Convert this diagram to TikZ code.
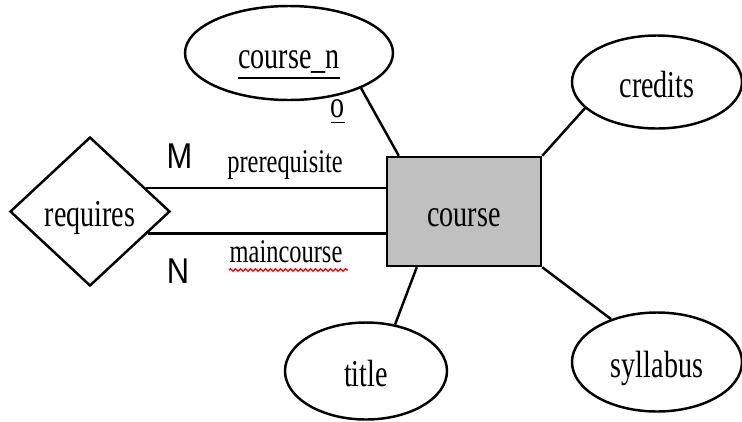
\documentclass[tikz,border=0pt]{standalone}
\usepackage{fontspec}
\setmainfont{Liberation Serif}[FakeStretch=0.74]
\newfontfamily\cardfont{Liberation Sans}[FakeStretch=0.86]
\usetikzlibrary{shapes.geometric,positioning,calc,decorations.pathmorphing}
\definecolor{entgray}{RGB}{192,192,192}

\begin{document}
\begin{tikzpicture}[
    ent/.style={draw, line width=0.7pt, fill=entgray, minimum width=1.54cm, minimum height=1.09cm, inner sep=0pt, text height=0.3cm, text depth=0pt, font=\fontsize{10.8}{12}\selectfont},
    rel/.style={draw, diamond, line width=0.7pt, minimum width=1.6cm, minimum height=1.49cm, inner sep=0pt, text height=0.3cm, text depth=0pt, font=\fontsize{10.8}{12}\selectfont},
    attr/.style={draw, ellipse, line width=0.7pt, inner sep=0pt, text height=0.3cm, text depth=0pt, font=\fontsize{10.8}{12}\selectfont},
    lbl/.style={anchor=base, inner sep=0pt, font=\fontsize{9.4}{11}\selectfont},
    card/.style={inner sep=0pt, font=\cardfont\fontsize{10.2}{11}\selectfont},
    link/.style={line width=0.7pt}
]
\useasboundingbox (0,0) rectangle (7.42,-4.21);

\node[ent] (crs) at (4.64,-2.115) {course};
\node[rel] (req) at (0.90,-2.115) {requires};
\node[attr, minimum width=2.08cm, minimum height=0.94cm] (cno) at (2.89,-0.53) {\underline{course\_n}};
\node[lbl, font=\fontsize{10.8}{12}\selectfont] (cno2) at (3.38,-1.17) {\underline{o}};
\node[attr, minimum width=1.70cm, minimum height=0.93cm] (cred) at (6.57,-0.82) {credits};
\node[attr, minimum width=1.62cm, minimum height=0.97cm] (tit) at (3.66,-3.71) {title};
\node[attr, minimum width=1.70cm, minimum height=0.99cm] (syl) at (6.57,-3.62) {syllabus};

\node[card] (m) at (1.795,-1.56) {M};
\node[card] (n) at (1.78,-2.715) {N};
\node[lbl] (pre) at (2.85,-1.72) {prerequisite};
\node[lbl] (mc) at (2.86,-2.62) {maincourse};

\draw[link] (req.23) -- (req.23 -| crs.west);
\draw[link] (req.-21) -- (req.-21 -| crs.west);
\draw[link] (cno.-26) -- ([xshift=0.13cm]crs.north west);
\draw[link] (cred.200) -- (crs.north east);
\draw[link] (tit.58) -- ([xshift=0.31cm]crs.south west);
\draw[link] (syl.137) -- (crs.south east);

\draw[red, decorate, decoration={snake, amplitude=0.012cm, segment length=0.05cm}]
    ([yshift=-0.08cm]mc.base west) -- ([xshift=0.05cm,yshift=-0.08cm]mc.base east);
\end{tikzpicture}
\end{document}
